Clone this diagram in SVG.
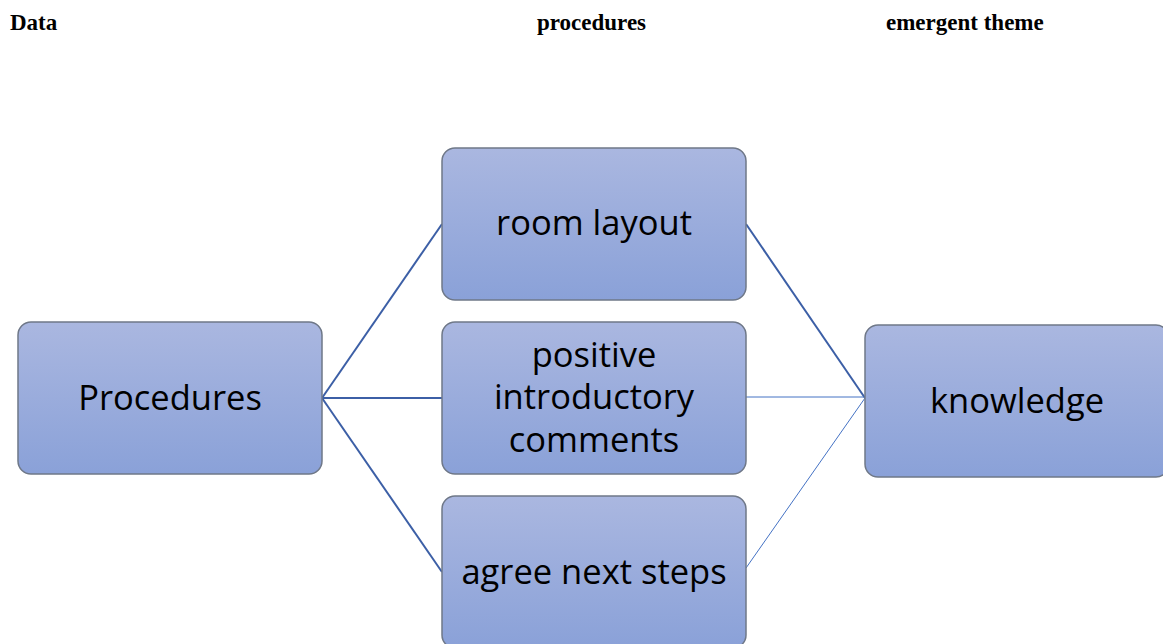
<svg xmlns="http://www.w3.org/2000/svg" width="1163" height="644" viewBox="0 0 1163 644">
<defs>
<linearGradient id="g" x1="0" y1="0" x2="0" y2="1">
<stop offset="0" stop-color="#AAB7E0"/>
<stop offset="1" stop-color="#8AA1D8"/>
</linearGradient>
</defs>
<style>
.box{fill:url(#g);stroke:#6F7888;stroke-width:1.5}
.lbl{font-family:"Open Sans","Noto Sans",sans-serif;font-size:34.5px;fill:#000;text-anchor:middle}
.hdr{font-family:"Liberation Serif",serif;font-weight:bold;font-size:23px;fill:#000}
.thick{stroke:#3C5FA6;stroke-width:2;fill:none}
.thin{stroke:#4472C4;stroke-width:1;fill:none}
</style>
<rect width="1163" height="644" fill="#fff"/>
<g id="headers">
<text class="hdr" x="10" y="30">Data</text>
<text class="hdr" x="537" y="30">procedures</text>
<text class="hdr" x="886" y="30">emergent theme</text>
</g>
<g id="connectors">
<line class="thick" x1="322" y1="398" x2="442" y2="224"/>
<line class="thick" x1="322" y1="398" x2="442" y2="398"/>
<line class="thick" x1="322" y1="398" x2="442" y2="572"/>
<line class="thick" x1="746" y1="224" x2="865" y2="398"/>
<line class="thin" x1="746" y1="397" x2="865" y2="397"/>
<line class="thin" x1="746" y1="568" x2="865" y2="398"/>
</g>
<g id="procedures">
<rect class="box" x="18" y="322" width="304" height="152" rx="13"/>
<text class="lbl" x="170" y="410">Procedures</text>
</g>
<g id="room-layout">
<rect class="box" x="442" y="148" width="304" height="152" rx="13"/>
<text class="lbl" x="594" y="235">room layout</text>
</g>
<g id="positive-introductory-comments">
<rect class="box" x="442" y="322" width="304" height="152" rx="13"/>
<text class="lbl" x="594" y="367">positive</text>
<text class="lbl" x="594" y="409">introductory</text>
<text class="lbl" x="594" y="452">comments</text>
</g>
<g id="agree-next-steps">
<rect class="box" x="442" y="496" width="304" height="152" rx="13"/>
<text class="lbl" x="594" y="584">agree next steps</text>
</g>
<g id="knowledge">
<rect class="box" x="865" y="325" width="304" height="152" rx="13"/>
<text class="lbl" x="1017" y="413">knowledge</text>
</g>
</svg>
